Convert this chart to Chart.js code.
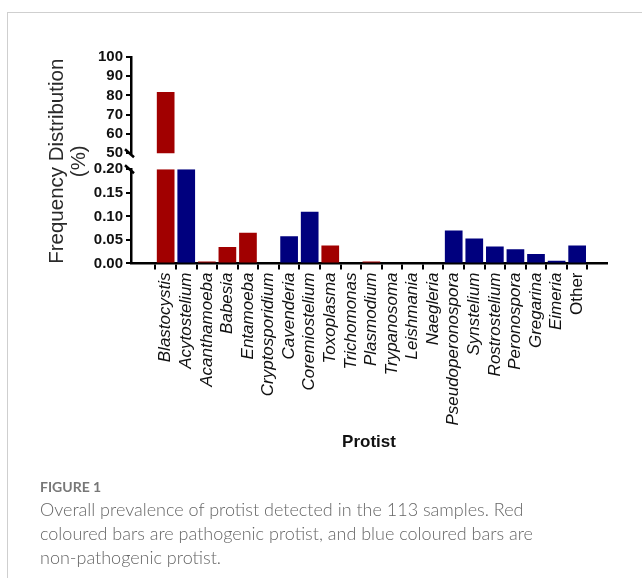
<!DOCTYPE html>
<html>
<head>
<meta charset="utf-8">
<script src="https://cdn.jsdelivr.net/npm/chart.js@4/dist/chart.umd.min.js"></script>
<style>
	body { margin: 0; background: #fff; width: 642px; height: 578px; overflow: hidden; position: relative; }
	#frame { position: absolute; left: 7px; top: 12px; right: 0; bottom: 0; border-left: 1px solid #cfcfcf; border-top: 1px solid #cfcfcf; }
	#chart { position: absolute; left: 0; top: 0; }
	#caption { position: absolute; left: 40px; top: 477px; font-family: Lato, 'Open Sans', sans-serif; color: #666; white-space: nowrap; }
	#caption .label { font-size: 14px; font-weight: 700; color: #777; line-height: 20px; }
	#caption .text { font-size: 18px; font-weight: 300; line-height: 24px; }
</style>
</head>
<body>
<div id="frame"></div>
<canvas id="chart" width="642" height="490"></canvas>
<div id="caption">
	<div class="label">FIGURE 1</div>
	<div class="text">Overall prevalence of protist detected in the 113 samples. Red<br>coloured bars are pathogenic protist, and blue coloured bars are<br>non-pathogenic protist.</div>
</div>
<script>
const categories = ['Blastocystis', 'Acytostelium', 'Acanthamoeba', 'Babesia', 'Entamoeba', 'Cryptosporidium', 'Cavenderia', 'Coremiostelium', 'Toxoplasma', 'Trichomonas', 'Plasmodium', 'Trypanosoma', 'Leishmania', 'Naegleria', 'Pseudoperonospora', 'Synstelium', 'Rostrostelium', 'Peronospora', 'Gregarina', 'Eimeria', 'Other']
const frequency = [81.8, 0.2, 0.004, 0.035, 0.065, 0, 0.058, 0.11, 0.038, 0, 0.004, 0, 0, 0, 0.07, 0.053, 0.036, 0.03, 0.02, 0.006, 0.038]
const pathogenic = [true, false, true, true, true, true, false, false, true, true, true, true, true, true, false, false, false, false, false, false, false]
const lowerRange = [0, 0.2]
const upperRange = [50, 100]

const RED = '#a10000'
const BLUE = '#00007e'
const colors = pathogenic.map((p) => (p ? RED : BLUE))

// bars split across the broken axis
const lowerBars = frequency.map((v, i) => ({ x: i, y: Math.min(v, lowerRange[1]) }))
const upperBars = frequency.map((v, i) => ({ x: i, y: v > upperRange[0] ? v : null }))

const FONT = "'Liberation Sans', Arial, sans-serif"
const AXIS_W = 87
const fitWidth = (scale) => { scale.width = AXIS_W }

const breakMarks = {
	id: 'breakMarks',
	afterDraw(chart) {
		const ctx = chart.ctx
		const x = chart.chartArea.left
		const ends = [chart.scales.y2.bottom, chart.scales.y.top]
		ctx.save()
		ctx.strokeStyle = '#000'
		ctx.lineWidth = 2.5
		ends.forEach((y) => {
			ctx.beginPath()
			ctx.moveTo(x - 6, y - 4)
			ctx.lineTo(x + 3, y + 4)
			ctx.stroke()
		})
		ctx.restore()
	},
}

const yTicks = (step, cb) => ({
	stepSize: step,
	autoSkip: false,
	padding: 3,
	color: '#111',
	font: { family: FONT, size: 15, weight: 'bold' },
	callback: cb,
})

new Chart(document.getElementById('chart'), {
	type: 'bar',
	data: {
		datasets: [
			{ data: lowerBars, yAxisID: 'y', backgroundColor: colors },
			{ data: upperBars, yAxisID: 'y2', backgroundColor: colors },
		],
	},
	options: {
		responsive: false,
		animation: false,
		grouped: false,
		barPercentage: 0.86,
		categoryPercentage: 1,
		layout: { padding: { left: 44, top: 57, right: 35, bottom: 33 } },
		plugins: { legend: { display: false }, tooltip: { enabled: false } },
		scales: {
			x: {
				type: 'linear',
				min: -1.134,
				max: 20.9,
				afterBuildTicks: (scale) => { scale.ticks = categories.map((c, i) => ({ value: i })) },
				ticks: {
					autoSkip: false,
					minRotation: 90,
					maxRotation: 90,
					padding: 3,
					color: '#111',
					font: (ctx) => ({
						family: FONT,
						size: 17,
						style: categories[ctx.index] === 'Other' ? 'normal' : 'italic',
					}),
					callback: (v) => categories[v],
				},
				grid: { drawOnChartArea: false, color: '#000', lineWidth: 2, tickLength: 6 },
				border: { color: '#000', width: 2.5 },
				title: {
					display: true,
					text: 'Protist',
					color: '#111',
					font: { family: FONT, size: 17, weight: 'bold' },
				},
			},
			y: {
				type: 'linear',
				position: 'left',
				stack: 'broken',
				stackWeight: 94,
				min: lowerRange[0],
				max: lowerRange[1],
				afterFit: fitWidth,
				ticks: yTicks(0.05, (v) => v.toFixed(2)),
				grid: { drawOnChartArea: false, color: '#000', lineWidth: 2, tickLength: 5 },
				border: { color: '#000', width: 2.5 },
			},
			yGap: {
				type: 'linear',
				position: 'left',
				stack: 'broken',
				stackWeight: 16,
				afterFit: fitWidth,
				ticks: { display: false },
				grid: { display: false },
				border: { display: false },
				title: {
					display: true,
					text: ['Frequency Distribution', '(%)'],
					color: '#2a2a2a',
					padding: { top: 3, bottom: 0 },
					font: { family: FONT, size: 20.5, lineHeight: 1.05 },
				},
			},
			y2: {
				type: 'linear',
				position: 'left',
				stack: 'broken',
				stackWeight: 96,
				min: upperRange[0],
				max: upperRange[1],
				afterFit: fitWidth,
				ticks: yTicks(10, (v) => v),
				grid: { drawOnChartArea: false, color: '#000', lineWidth: 2, tickLength: 5 },
				border: { color: '#000', width: 2.5 },
			},
		},
	},
	plugins: [breakMarks],
})
</script>
</body>
</html>
